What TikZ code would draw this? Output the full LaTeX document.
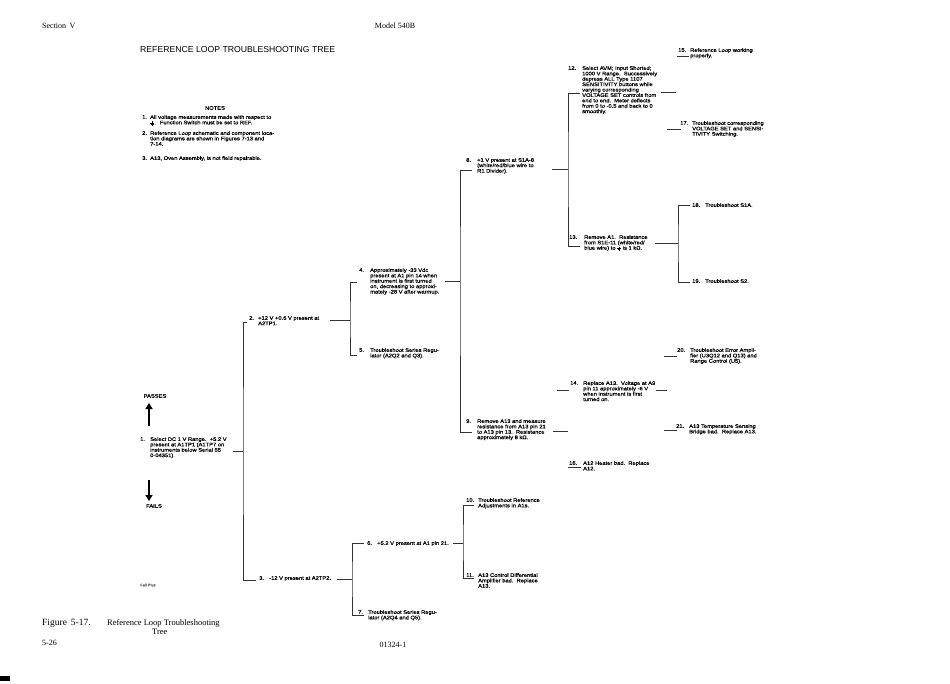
\documentclass[tikz,border=0pt]{standalone}
\usepackage{fontspec}
\usepackage{graphicx}
\setmainfont{Liberation Sans}
\newfontfamily\stepfont[FakeStretch=1.13,FakeBold=0.6]{Liberation Sans}
\newfontfamily\serfont{Liberation Serif}
\usetikzlibrary{arrows.meta}
\newcommand\fs{\stepfont\fontsize{5.1}{5.4}\selectfont}
\newcommand\gndsym{\lower0.6pt\vbox{\offinterlineskip\hbox to 4pt{\hss\vrule width .35pt height 1.6pt depth 0pt\hss}\hrule height .35pt\kern.55pt\hbox to 4pt{\hss\vrule width 2.6pt height .35pt depth 0pt\hss}\kern.55pt\hbox to 4pt{\hss\vrule width 1.2pt height .35pt depth 0pt\hss}}}
\newcommand\stepn[6]{\node[numlbl] (n#1) at (#3,#5) {#2};\node[txtlbl] (#1) at (#4,#5) {#6};}
\begin{document}
\begin{tikzpicture}[x=1pt,y=-1pt,
  numlbl/.style={anchor=north west,inner sep=0pt,font=\fs},
  txtlbl/.style={anchor=north west,inner sep=0pt,align=left,font=\fs},
  link/.style={draw=black!80,line width=0.7pt},
  hdr/.style={inner sep=0pt,font=\serfont\fontsize{8}{9}\selectfont},
  capt/.style={inner sep=0pt,font=\serfont\fontsize{8.5}{10}\selectfont},
  bigarrow/.style={line width=2.4pt,-{Triangle[width=7pt,length=6pt]}}]
\fill[white] (0,0) rectangle (950,683);
\useasboundingbox (0,0) rectangle (950,683);

% header / footer
\node[hdr,anchor=base west] (sec) at (42,28) {Section\, V};
\node[hdr,anchor=base] (model) at (395,28) {Model 540B};
\node[inner sep=0pt,anchor=west] (title) at (140,50) {\resizebox{195pt}{!}{REFERENCE LOOP TROUBLESHOOTING TREE}};
\node[capt,anchor=base west,font=\serfont\fontsize{9.5}{10}\selectfont] (fig) at (42,625) {Figure\, 5-17.};
\node[capt,anchor=base west] (cap) at (107,625) {Reference Loop Troubleshooting};
\node[capt,anchor=base west] (cap2) at (152,634) {Tree};
\node[hdr,anchor=base west] (page) at (42,645) {5-26};
\node[hdr,anchor=base] (pn) at (393,647) {01324-1};
\fill (0,676) rectangle (10,681);

% notes
\node[inner sep=0pt,font=\fs] (notes) at (215,108) {NOTES};
\stepn{m1}{1.}{142}{150}{115}{All voltage measurements made with respect to\\\gndsym\,.\ \ Function Switch must be set to REF.}
\stepn{m2}{2.}{142}{150}{131}{Reference Loop schematic and component loca-\\tion diagrams are shown in Figures 7-13 and\\7-14.}
\stepn{m3}{3.}{142}{150}{156}{A13, Oven Assembly, is not field repairable.}

% passes / fails
\node[inner sep=0pt,font=\fs] (pass) at (155,396) {PASSES};
\coordinate (pa1) at (149,426); \coordinate (pa2) at (149,403);
\draw[bigarrow] (pa1) -- (pa2);
\node[inner sep=0pt,font=\fs] (fail) at (154,506) {FAILS};
\coordinate (fa1) at (149,480); \coordinate (fa2) at (149,501);
\draw[bigarrow] (fa1) -- (fa2);
\node[inner sep=0pt,font=\stepfont\fontsize{3.5}{4}\selectfont,text=black!60] (fp) at (148,585) {Fail Plus};

% steps
\stepn{s1}{1.}{140}{150}{437}{Select DC 1 V Range.\ \ +5.2 V\\present at A1TP1 (A1TP7 on\\instruments below Serial 55\\0-04351).}
\stepn{s2}{2.}{249}{258}{316}{+12 V +0.6 V present at\\A2TP1.}
\stepn{s3}{3.}{259}{269}{576}{-12 V present at A2TP2.}
\stepn{s4}{4.}{359}{370}{268}{Approximately -33 Vdc\\present at A1 pin 14 when\\instrument is first turned\\on, decreasing to approxi-\\mately -28 V after warmup.}
\stepn{s5}{5.}{359}{370}{348}{Troubleshoot Series Regu-\\lator (A2Q2 and Q3).}
\stepn{s6}{6.}{367}{377}{541}{+5.2 V present at A1 pin 21.}
\stepn{s7}{7.}{358}{368}{610}{Troubleshoot Series Regu-\\lator (A2Q4 and Q5).}
\stepn{s8}{8.}{466}{477}{158}{+1 V present at S1A-8\\(white/red/blue wire to\\R1 Divider).}
\stepn{s9}{9.}{466}{477}{419}{Remove A13 and measure\\resistance from A13 pin 21\\to A13 pin 13.\ \ Resistance\\approximately 8 kΩ.}
\stepn{s10}{10.}{466}{478}{498}{Troubleshoot Reference\\Adjustments in A1s.}
\stepn{s11}{11.}{466}{478}{573}{A13 Control Differential\\Amplifier bad.\ \ Replace\\A13.}
\stepn{s12}{12.}{568}{582}{66}{Select AVM; Input Shorted;\\1000 V Range.\ \ Successively\\depress ALL Type 1107\\SENSITIVITY buttons while\\varying corresponding\\VOLTAGE SET controls from\\end to end.\ \ Meter deflects\\from 0 to -0.5 and back to 0\\smoothly.}
\stepn{s13}{13.}{569}{584}{235}{Remove A1.\ \ Resistance\\from S1E-11 (white/red/\\blue wire) to \gndsym\ is 1 kΩ.}
\stepn{s14}{14.}{570}{583}{381}{Replace A13.\ \ Voltage at A9\\pin 11 approximately -6 V\\when instrument is first\\turned on.}
\stepn{s15}{15.}{678}{690}{48}{Reference Loop working\\properly.}
\stepn{s16}{16.}{569}{583}{461}{A12 Heater bad.\ \ Replace\\A12.}
\stepn{s17}{17.}{680}{692}{121}{Troubleshoot corresponding\\VOLTAGE SET and SENSI-\\TIVITY Switching.}
\stepn{s18}{18.}{692}{705}{203}{Troubleshoot S1A.}
\stepn{s19}{19.}{692}{705}{279}{Troubleshoot S2.}
\stepn{s20}{20.}{677}{690}{348}{Troubleshoot Error Ampli-\\fier (U3Q12 and Q13) and\\Range Control (U5).}
\stepn{s21}{21.}{676}{689}{424}{A13 Temperature Sensing\\Bridge bad.\ \ Replace A13.}

% connectors
\coordinate (o1) at (233,451); \coordinate (v1) at (243,451);
\coordinate (i2) at (247,322); \coordinate (i3) at (256,580);
\draw[link] (o1) -- (v1) (i2) -| (v1) |- (i3);

\coordinate (o2) at (330,320); \coordinate (v2) at (350,320);
\coordinate (i4) at (357,282); \coordinate (i5) at (357,355);
\draw[link] (o2) -- (v2) (i4) -| (v2) |- (i5);

\coordinate (o4) at (445,281); \coordinate (v4) at (460,281);
\coordinate (i8) at (472,170); \coordinate (i9) at (472,432);
\draw[link] (o4) -- (v4) (i8) -| (v4) |- (i9);

\coordinate (o8) at (552,169); \coordinate (v8) at (568,169);
\coordinate (i12) at (580,93); \coordinate (i13) at (580,246);
\draw[link] (o8) -- (v8) (i12) -| (v8) |- (i13);

\coordinate (o12) at (661,92); \coordinate (e12) at (676,92);
\draw[link] (o12) -- (e12);
\coordinate (a15) at (677,56); \coordinate (b15) at (689,56);
\draw[link] (a15) -- (b15);
\coordinate (a17) at (667,129); \coordinate (b17) at (681,129);
\draw[link] (a17) -- (b17);

\coordinate (o13) at (655,243); \coordinate (v13) at (678,243);
\coordinate (i18) at (690,205); \coordinate (i19) at (690,282);
\draw[link] (o13) -- (v13) (i18) -| (v13) |- (i19);

\coordinate (o9) at (553,431); \coordinate (e9) at (568,431);
\draw[link] (o9) -- (e9);
\coordinate (a14) at (557,390); \coordinate (b14) at (569,390);
\draw[link] (a14) -- (b14);
\coordinate (o14) at (656,390); \coordinate (e14) at (667,390);
\draw[link] (o14) -- (e14);
\coordinate (a16) at (568,467); \coordinate (b16) at (581,467);
\draw[link] (a16) -- (b16);
\coordinate (a20) at (664,356); \coordinate (b20) at (677,356);
\draw[link] (a20) -- (b20);
\coordinate (a21) at (664,430); \coordinate (b21) at (677,430);
\draw[link] (a21) -- (b21);

\coordinate (o3) at (337,579); \coordinate (v3) at (352,579);
\coordinate (i6) at (364,543); \coordinate (i7) at (364,615);
\draw[link] (o3) -- (v3) (i6) -| (v3) |- (i7);

\coordinate (o6) at (453,543); \coordinate (v6) at (463,543);
\coordinate (i10) at (474,505); \coordinate (i11) at (474,578);
\draw[link] (o6) -- (v6) (i10) -| (v6) |- (i11);
\end{tikzpicture}
\end{document}
